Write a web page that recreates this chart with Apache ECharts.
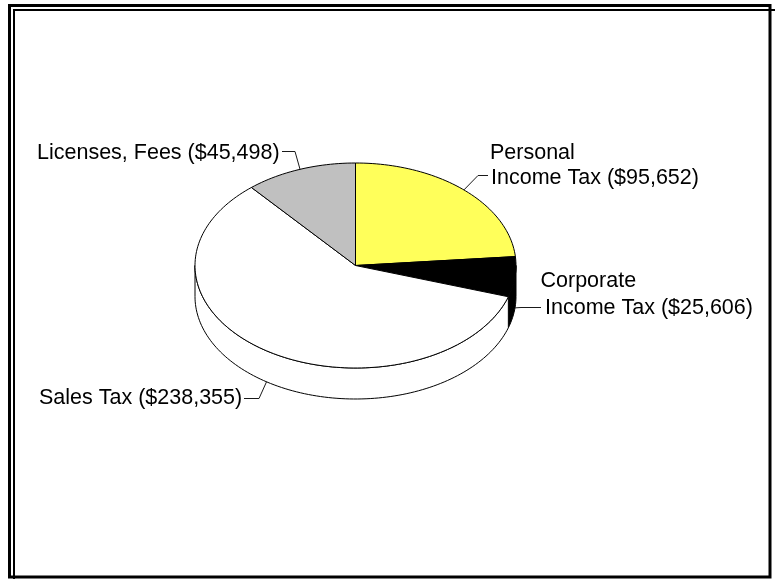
<!DOCTYPE html>
<html>
<head>
<meta charset="utf-8">
<script src="https://cdn.jsdelivr.net/npm/echarts@6/dist/echarts.min.js"></script>
<style>
  html, body { margin: 0; padding: 0; background: #fff; }
  #chart { width: 775px; height: 579px; }
</style>
</head>
<body>
<div id="chart"></div>
<script>
// Revenue sources (thousands of dollars), in clockwise order from 12 o'clock
const categories = ['Personal\nIncome Tax', 'Corporate\nIncome Tax', 'Sales Tax', 'Licenses, Fees'];
const revenues = [95652, 25606, 238355, 45498];

const sliceColors = ['#ffff5a', '#000000', '#ffffff', '#c0c0c0'];

// Tilted pie: centre of the top face, ellipse radii and the slab thickness
const PIE = { cx: 355.5, cy: 265.5, rx: 160.5, ry: 102.5, depth: 31 };

// Label layout: one entry per text line (middle y), leader start / elbow, and
// whether the leader ends on the top rim or the bottom rim of the slab
const labelLayout = [
  { lines: [[490, 153], [491, 178]], start: [488, 175.5], elbowX: 478, rim: 'top' },
  { lines: [[540.5, 281], [545, 308]], start: [541, 307.5], elbowX: 521, rim: 'bottom' },
  { lines: [[39, 398]], start: [244, 398.5], elbowX: 259, rim: 'bottom' },
  { lines: [[37, 153]], start: [282, 151.5], elbowX: 295, rim: 'top' }
];

const FONT = '21.5px "Liberation Sans", Arial, sans-serif';

function fmt(v) {
  return '$' + v.toLocaleString('en-US');
}

// point on the rim at angle a (degrees clockwise from 12 o'clock)
function rim(a, dy) {
  const r = a * Math.PI / 180;
  return [PIE.cx + PIE.rx * Math.sin(r), PIE.cy - PIE.ry * Math.cos(r) + (dy || 0)];
}

function arcPoints(a0, a1, dy) {
  const pts = [];
  const n = Math.max(2, Math.ceil(Math.abs(a1 - a0) / 1.5));
  for (let k = 0; k <= n; k++) pts.push(rim(a0 + (a1 - a0) * k / n, dy));
  return pts;
}

function sliceRange(idx, api) {
  let total = 0;
  for (let i = 0; i < revenues.length; i++) total += revenues[i];
  let before = 0;
  for (let i = 0; i < idx; i++) before += revenues[i];
  const a0 = before / total * 360;
  const a1 = a0 + api.value(1) / total * 360;
  return [a0, a1];
}

// front wall of each slice (only the part facing the viewer, 90°..270°)
function renderSide(params, api) {
  const [a0, a1] = sliceRange(params.dataIndex, api);
  const s = Math.max(a0, 90), e = Math.min(a1, 270);
  if (e <= s) return null;
  const top = arcPoints(s, e, 0);
  const bottom = arcPoints(e, s, PIE.depth);
  return {
    type: 'polygon',
    shape: { points: top.concat(bottom) },
    style: { fill: sliceColors[params.dataIndex], stroke: '#000', lineWidth: 1 }
  };
}

// top face of each slice plus its label and leader line
function renderTop(params, api) {
  const idx = params.dataIndex;
  const [a0, a1] = sliceRange(idx, api);
  const face = [[PIE.cx, PIE.cy]].concat(arcPoints(a0, a1, 0));
  const lay = labelLayout[idx];
  const mid = (a0 + a1) / 2;
  const end = rim(mid, lay.rim === 'bottom' ? PIE.depth : 0);
  const text = categories[idx] + ' (' + fmt(api.value(1)) + ')';
  const children = [{
    type: 'polygon',
    shape: { points: face },
    style: { fill: sliceColors[idx], stroke: '#000', lineWidth: 1 }
  }, {
    type: 'polyline',
    z2: 10,
    shape: { points: [lay.start, [lay.elbowX, lay.start[1]], end] },
    style: { stroke: '#1a1a1a', lineWidth: 1, fill: null }
  }];
  text.split('\n').forEach((line, k) => {
    children.push({
      type: 'text',
      z2: 11,
      style: {
        text: line,
        x: lay.lines[k][0],
        y: lay.lines[k][1],
        font: FONT,
        fill: '#000',
        align: 'left',
        verticalAlign: 'middle'
      }
    });
  });
  return { type: 'group', children };
}

const seriesData = revenues.map((v, i) => [i, v]);

const chart = echarts.init(document.getElementById('chart'), null, { renderer: 'canvas' });
chart.setOption({
  animation: false,
  backgroundColor: '#fff',
  graphic: [
    { type: 'rect', shape: { x: 14, y: 10, width: 780, height: 600 },
      style: { fill: null, stroke: '#000', lineWidth: 2 }, silent: true },
    { type: 'rect', shape: { x: 9.5, y: 5.5, width: 760.5, height: 571.5 },
      style: { fill: null, stroke: '#000', lineWidth: 3 }, silent: true }
  ],
  series: [
    { type: 'custom', coordinateSystem: 'none', silent: true, z: 2,
      renderItem: renderSide, data: seriesData },
    { type: 'custom', coordinateSystem: 'none', silent: true, z: 3,
      renderItem: renderTop, data: seriesData }
  ]
});
</script>
</body>
</html>
